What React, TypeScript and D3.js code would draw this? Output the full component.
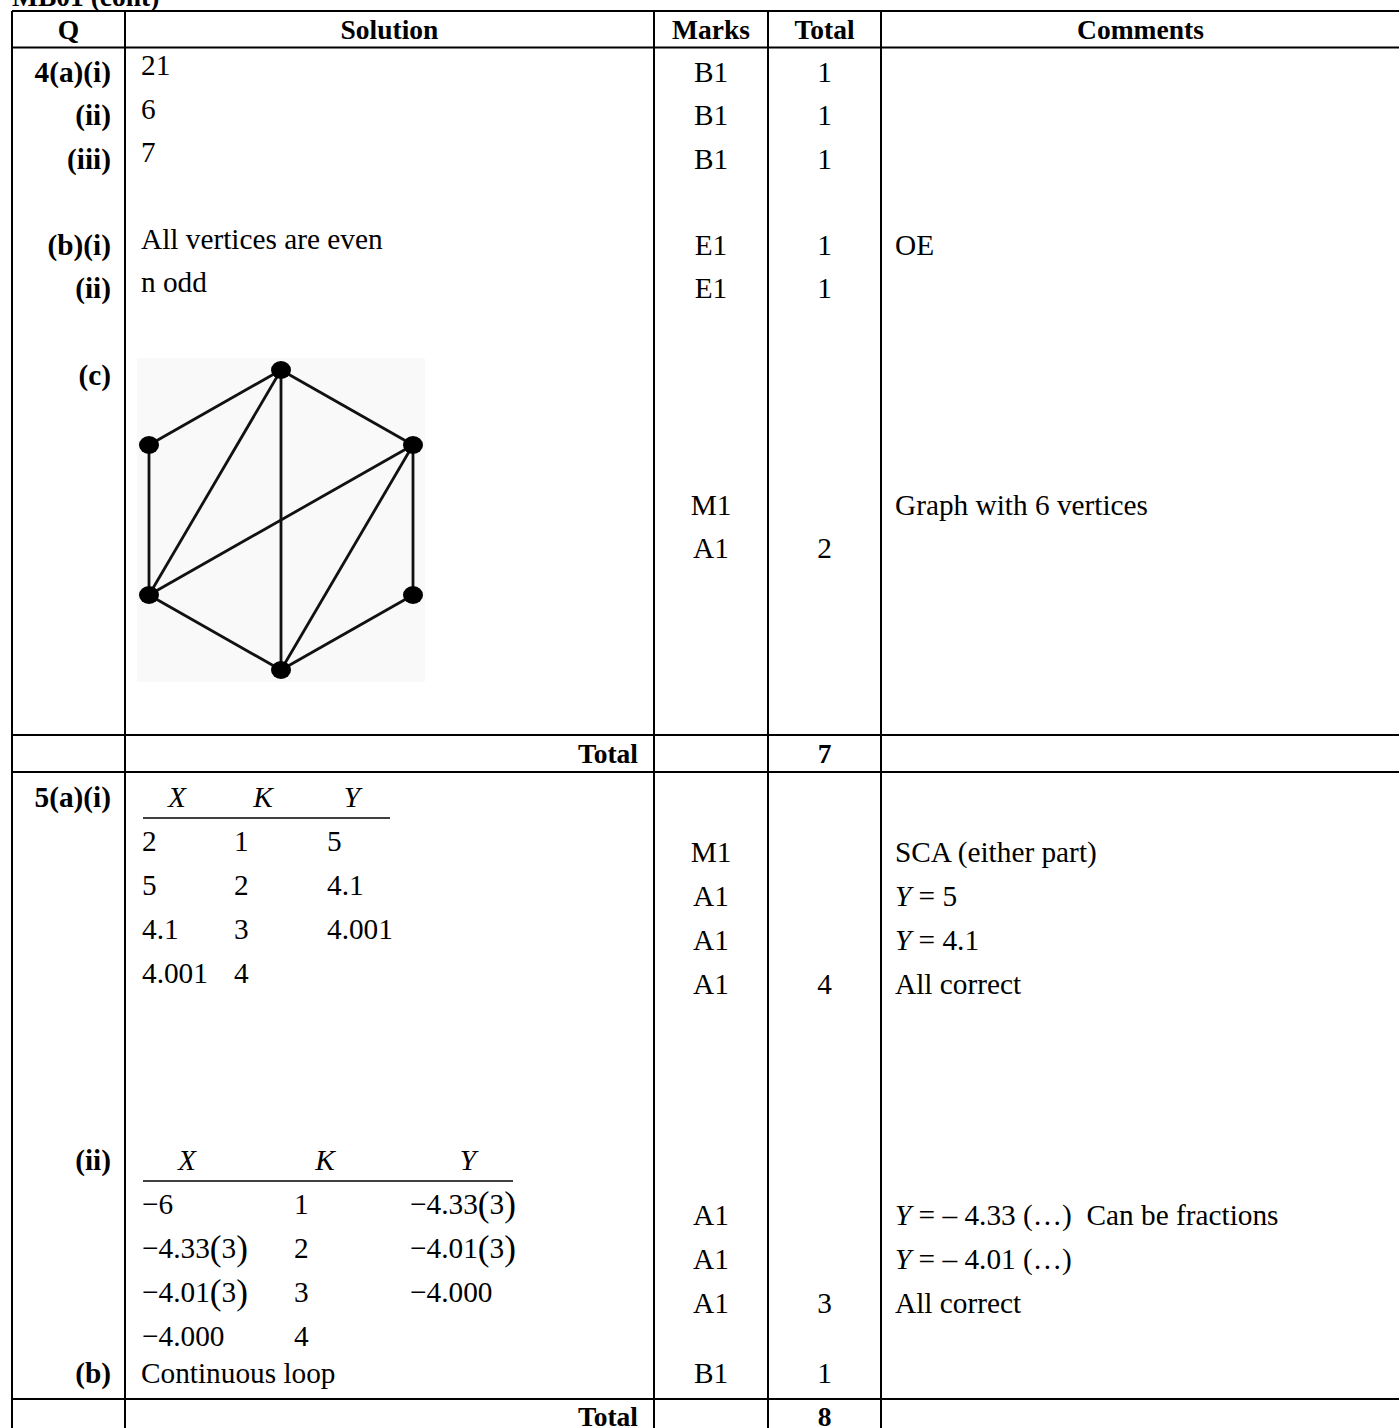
import React from 'react';
import * as d3 from 'd3';

// ---------- data ----------
const title = 'MB01 (cont)';
const columns = ['Q', 'Solution', 'Marks', 'Total', 'Comments'];

// Question 4 (line = logical text line inside the section)
const q4Parts = [
  { line: 0, text: '4(a)(i)' },
  { line: 1, text: '(ii)' },
  { line: 2, text: '(iii)' },
  { line: 4, text: '(b)(i)' },
  { line: 5, text: '(ii)' },
  { line: 7, text: '(c)' },
];
const q4Solutions = [
  { line: 0, text: '21' },
  { line: 1, text: '6' },
  { line: 2, text: '7' },
  { line: 4, text: 'All vertices are even' },
  { line: 5, text: 'n odd' },
];
const q4Marks = [
  { line: 0, mark: 'B1', total: '1' },
  { line: 1, mark: 'B1', total: '1' },
  { line: 2, mark: 'B1', total: '1' },
  { line: 4, mark: 'E1', total: '1' },
  { line: 5, mark: 'E1', total: '1' },
  { line: 10, mark: 'M1', total: '' },
  { line: 11, mark: 'A1', total: '2' },
];
const q4Comments = [
  { line: 4, parts: [{ t: 'OE' }] },
  { line: 10, parts: [{ t: 'Graph with 6 vertices' }] },
];
const q4Total = '7';

// graph in part (c): hexagon coordinates
const graphNodes = [
  { id: 'T', x: 0, y: 1 },
  { id: 'UL', x: -1, y: 0.5 },
  { id: 'UR', x: 1, y: 0.5 },
  { id: 'LL', x: -1, y: -0.5 },
  { id: 'LR', x: 1, y: -0.5 },
  { id: 'B', x: 0, y: -1 },
];
const graphEdges = [
  ['T', 'UL'], ['T', 'UR'], ['T', 'LL'], ['T', 'B'],
  ['UL', 'LL'], ['UR', 'LL'], ['UR', 'B'], ['UR', 'LR'],
  ['LL', 'B'], ['B', 'LR'],
];

// Question 5
const q5Parts = [
  { line: 0, text: '5(a)(i)' },
  { line: 8.25, text: '(ii)' },
  { line: 13.1, text: '(b)' },
];
const tableHeaders = ['X', 'K', 'Y'];
const tableIRows = [
  ['2', '1', '5'],
  ['5', '2', '4.1'],
  ['4.1', '3', '4.001'],
  ['4.001', '4', ''],
];
const tableIStart = 0;
const tableIIRows = [
  ['−6', '1', '−4.33(3)'],
  ['−4.33(3)', '2', '−4.01(3)'],
  ['−4.01(3)', '3', '−4.000'],
  ['−4.000', '4', ''],
];
const tableIIStart = 8.25;
const q5Solutions = [{ line: 13.1, text: 'Continuous loop' }];
const q5Marks = [
  { line: 1.25, mark: 'M1', total: '' },
  { line: 2.25, mark: 'A1', total: '' },
  { line: 3.25, mark: 'A1', total: '' },
  { line: 4.25, mark: 'A1', total: '4' },
  { line: 9.5, mark: 'A1', total: '' },
  { line: 10.5, mark: 'A1', total: '' },
  { line: 11.5, mark: 'A1', total: '3' },
  { line: 13.1, mark: 'B1', total: '1' },
];
const q5Comments = [
  { line: 1.25, parts: [{ t: 'SCA (either part)' }] },
  { line: 2.25, parts: [{ t: 'Y', i: true }, { t: ' = 5' }] },
  { line: 3.25, parts: [{ t: 'Y', i: true }, { t: ' = 4.1' }] },
  { line: 4.25, parts: [{ t: 'All correct' }] },
  { line: 9.5, parts: [{ t: 'Y', i: true }, { t: ' = – 4.33 (…)  Can be fractions' }] },
  { line: 10.5, parts: [{ t: 'Y', i: true }, { t: ' = – 4.01 (…)' }] },
  { line: 11.5, parts: [{ t: 'All correct' }] },
];
const q5Total = '8';
const totalLabel = 'Total';

// ---------- layout ----------
const W = 1399;
const H = 1428;
const FONT = '"Liberation Serif", "Times New Roman", serif';
const FS = 29.3;
const FS_HEAD = 27.5;
const colX = [12, 125, 654, 768, 881, 1400];
const rowY = { top: 11, head: 47.5, tot1a: 735, tot1b: 772, tot2a: 1399, tot2b: 1434 };

const y4 = d3.scaleLinear().domain([0, 11]).range([72, 548]);
const y5 = d3.scaleLinear().domain([0, 12.25]).range([797, 1336]);
const gx = d3.scaleLinear().domain([-1, 1]).range([149, 413]);
const gy = d3.scaleLinear().domain([1, -1]).range([370, 670]);

const qRight = 111;
const solLeft = 141;
const markCx = (colX[2] + colX[3]) / 2;
const totCx = (colX[3] + colX[4]) / 2;
const comLeft = 895;

function MathVal({ s }: { s: string }) {
  // render "(3)" with taller parentheses
  const m = s.match(/^(.*)\((\d)\)$/);
  if (!m) return <>{s}</>;
  return (
    <>
      {m[1]}
      <tspan fontSize={FS * 1.2} dy={2}>(</tspan>
      <tspan fontSize={FS} dy={-2}>{m[2]}</tspan>
      <tspan fontSize={FS * 1.2} dy={2}>)</tspan>
    </>
  );
}

function MiniTable({ rows, start, headCx, colLeft, lineEnd }: any) {
  const yh = y5(start);
  return (
    <g>
      {tableHeaders.map((h, i) => (
        <text key={h} x={headCx[i]} y={yh} dy="0.34em" textAnchor="middle" fontStyle="italic">{h}</text>
      ))}
      <line x1={solLeft + 2} x2={lineEnd} y1={yh + 21} y2={yh + 21} stroke="#000" strokeWidth={1.3} />
      {rows.map((r: string[], ri: number) =>
        r.map((c, ci) => c ? (
          <text key={ri + '-' + ci} x={colLeft[ci]} y={y5(start + 1 + ri)} dy="0.34em">
            <MathVal s={c} />
          </text>
        ) : null)
      )}
    </g>
  );
}

export default function App() {
  const nodeById = new Map(graphNodes.map((n) => [n.id, n]));
  const hLines = [rowY.top, rowY.head, rowY.tot1a, rowY.tot1b, rowY.tot2a];
  const comment = (c: any, y: number) => (
    <text key={'c' + y} x={comLeft} y={y} dy="0.34em" style={{ whiteSpace: 'pre' }}>
      {c.parts.map((p: any, i: number) => (
        <tspan key={i} fontStyle={p.i ? 'italic' : 'normal'}>{p.t}</tspan>
      ))}
    </text>
  );
  return (
    <svg width={W} height={H} style={{ position: 'absolute', left: 0, top: 0, background: '#fff' }}
      fontFamily={FONT} fontSize={FS} fill="#000">
      <rect width={W} height={H} fill="#fff" />
      {/* title (cropped at top) */}
      <text x={colX[0]} y={6} fontWeight="bold" fontSize={FS_HEAD}>{title}</text>

      {/* grid */}
      <g stroke="#000" strokeWidth={2}>
        {hLines.map((y) => <line key={y} x1={colX[0]} x2={colX[5]} y1={y} y2={y} />)}
        {colX.map((x) => <line key={x} x1={x} x2={x} y1={rowY.top} y2={H} />)}
      </g>

      {/* header */}
      {columns.map((c, i) => (
        <text key={c} x={(colX[i] + colX[i + 1]) / 2} y={(rowY.top + rowY.head) / 2} dy="0.34em"
          textAnchor="middle" fontWeight="bold" fontSize={FS_HEAD}>{c}</text>
      ))}

      {/* Question 4 */}
      {q4Parts.map((p) => (
        <text key={'q4' + p.line} x={qRight} y={y4(p.line)} dy="0.34em" textAnchor="end" fontWeight="bold">{p.text}</text>
      ))}
      {q4Solutions.map((s) => (
        <text key={'s4' + s.line} x={solLeft} y={y4(s.line - 0.15)} dy="0.34em">{s.text}</text>
      ))}
      {q4Marks.map((m) => (
        <g key={'m4' + m.line}>
          <text x={markCx} y={y4(m.line)} dy="0.34em" textAnchor="middle">{m.mark}</text>
          {m.total && <text x={totCx} y={y4(m.line)} dy="0.34em" textAnchor="middle">{m.total}</text>}
        </g>
      ))}
      {q4Comments.map((c) => comment(c, y4(c.line)))}

      {/* graph */}
      <rect x={gx(-1) - 12} y={gy(1) - 12} width={gx(1) - gx(-1) + 24} height={gy(-1) - gy(1) + 24} fill="#f9f9f9" />
      <g stroke="#111" strokeWidth={2.8}>
        {graphEdges.map(([a, b]) => {
          const na = nodeById.get(a)!, nb = nodeById.get(b)!;
          return <line key={a + b} x1={gx(na.x)} y1={gy(na.y)} x2={gx(nb.x)} y2={gy(nb.y)} />;
        })}
      </g>
      {graphNodes.map((n) => (
        <ellipse key={n.id} cx={gx(n.x)} cy={gy(n.y)} rx={10} ry={9} fill="#000" />
      ))}

      {/* Total row 1 */}
      <text x={colX[2] - 16} y={(rowY.tot1a + rowY.tot1b) / 2} dy="0.34em" textAnchor="end" fontWeight="bold" fontSize={FS_HEAD}>{totalLabel}</text>
      <text x={totCx} y={(rowY.tot1a + rowY.tot1b) / 2} dy="0.34em" textAnchor="middle" fontWeight="bold" fontSize={FS_HEAD}>{q4Total}</text>

      {/* Question 5 */}
      {q5Parts.map((p) => (
        <text key={'q5' + p.line} x={qRight} y={y5(p.line)} dy="0.34em" textAnchor="end" fontWeight="bold">{p.text}</text>
      ))}
      <MiniTable rows={tableIRows} start={tableIStart} headCx={[177, 263, 352]} colLeft={[142, 234, 327]} lineEnd={390} />
      <MiniTable rows={tableIIRows} start={tableIIStart} headCx={[187, 325, 468]} colLeft={[142, 294, 410]} lineEnd={513} />
      {q5Solutions.map((s) => (
        <text key={'s5' + s.line} x={solLeft} y={y5(s.line)} dy="0.34em">{s.text}</text>
      ))}
      {q5Marks.map((m) => (
        <g key={'m5' + m.line}>
          <text x={markCx} y={y5(m.line)} dy="0.34em" textAnchor="middle">{m.mark}</text>
          {m.total && <text x={totCx} y={y5(m.line)} dy="0.34em" textAnchor="middle">{m.total}</text>}
        </g>
      ))}
      {q5Comments.map((c) => comment(c, y5(c.line)))}

      {/* Total row 2 */}
      <text x={colX[2] - 16} y={(rowY.tot2a + rowY.tot2b) / 2} dy="0.34em" textAnchor="end" fontWeight="bold" fontSize={FS_HEAD}>{totalLabel}</text>
      <text x={totCx} y={(rowY.tot2a + rowY.tot2b) / 2} dy="0.34em" textAnchor="middle" fontWeight="bold" fontSize={FS_HEAD}>{q5Total}</text>
    </svg>
  );
}
